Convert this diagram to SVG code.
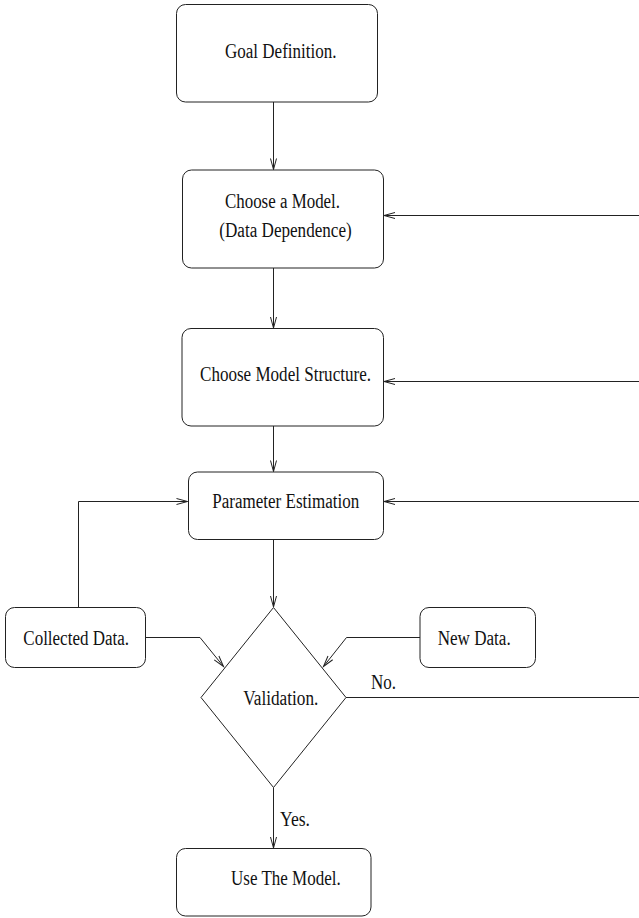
<svg xmlns="http://www.w3.org/2000/svg" width="639" height="918" viewBox="0 0 639 918">
<defs>
<style>
.box{fill:#fff;stroke:#222;stroke-width:1}
.ln{fill:none;stroke:#222;stroke-width:1}
text{font-family:"Liberation Serif","Times New Roman",serif;font-size:20px;fill:#111}
</style>
<marker id="ah" markerUnits="userSpaceOnUse" markerWidth="14" markerHeight="10" refX="0" refY="0" viewBox="-12 -5 14 10" orient="auto" overflow="visible">
<path d="M -11 -3 L 0 0 L -11 3" fill="none" stroke="#222" stroke-width="1"/>
</marker>
</defs>
<rect width="639" height="918" fill="#fff"/>
<g id="connectors">
<line class="ln" x1="273.5" y1="102" x2="273.5" y2="169.5" marker-end="url(#ah)"/>
<line class="ln" x1="273.5" y1="268" x2="273.5" y2="328" marker-end="url(#ah)"/>
<line class="ln" x1="273.5" y1="426" x2="273.5" y2="471.5" marker-end="url(#ah)"/>
<line class="ln" x1="273.5" y1="539.5" x2="273.5" y2="607" marker-end="url(#ah)"/>
<line class="ln" x1="273.5" y1="787.5" x2="273.5" y2="848" marker-end="url(#ah)"/>
<line class="ln" x1="639" y1="215.5" x2="384" y2="215.5" marker-end="url(#ah)"/>
<line class="ln" x1="639" y1="381.5" x2="384" y2="381.5" marker-end="url(#ah)"/>
<line class="ln" x1="639" y1="501.5" x2="384" y2="501.5" marker-end="url(#ah)"/>
<polyline class="ln" points="78.5,607 78.5,501.5 187.5,501.5" marker-end="url(#ah)"/>
<polyline class="ln" points="145.5,637.5 200,637.5 223.5,666.5" marker-end="url(#ah)"/>
<polyline class="ln" points="420,637.5 346.5,637.5 323.5,666.5" marker-end="url(#ah)"/>
<line class="ln" x1="346" y1="697.5" x2="639" y2="697.5"/>
<text x="371" y="689" textLength="25" lengthAdjust="spacingAndGlyphs">No.</text>
<text x="280" y="826" textLength="30" lengthAdjust="spacingAndGlyphs">Yes.</text>
</g>
<g id="goal">
<rect class="box" x="176.5" y="4.5" width="201" height="97.5" rx="9"/>
<text x="225" y="58" textLength="111.5" lengthAdjust="spacingAndGlyphs">Goal Definition.</text>
</g>
<g id="choose-model">
<rect class="box" x="182.5" y="170" width="201" height="98" rx="9"/>
<text x="225" y="208" textLength="115" lengthAdjust="spacingAndGlyphs">Choose a Model.</text>
<text x="219.3" y="237" textLength="132.4" lengthAdjust="spacingAndGlyphs">(Data Dependence)</text>
</g>
<g id="choose-structure">
<rect class="box" x="182" y="328.5" width="201.5" height="97.5" rx="9"/>
<text x="200" y="381" textLength="171" lengthAdjust="spacingAndGlyphs">Choose Model Structure.</text>
</g>
<g id="parameter-estimation">
<rect class="box" x="188.5" y="472" width="195" height="67.5" rx="9"/>
<text x="212.3" y="508" textLength="147" lengthAdjust="spacingAndGlyphs">Parameter Estimation</text>
</g>
<g id="collected-data">
<rect class="box" x="5.5" y="607.5" width="140" height="60" rx="9"/>
<text x="23.3" y="645" textLength="105.7" lengthAdjust="spacingAndGlyphs">Collected Data.</text>
</g>
<g id="new-data">
<rect class="box" x="420" y="607.5" width="115.5" height="60" rx="9"/>
<text x="437.7" y="645" textLength="73" lengthAdjust="spacingAndGlyphs">New Data.</text>
</g>
<g id="validation">
<polygon class="box" points="273.5,607.5 346,697.5 273.5,787.5 201,697.5"/>
<text x="243.3" y="705" textLength="75" lengthAdjust="spacingAndGlyphs">Validation.</text>
</g>
<g id="use-model">
<rect class="box" x="176.5" y="848.5" width="194.5" height="67.5" rx="9"/>
<text x="231" y="885" textLength="109.7" lengthAdjust="spacingAndGlyphs">Use The Model.</text>
</g>
</svg>
